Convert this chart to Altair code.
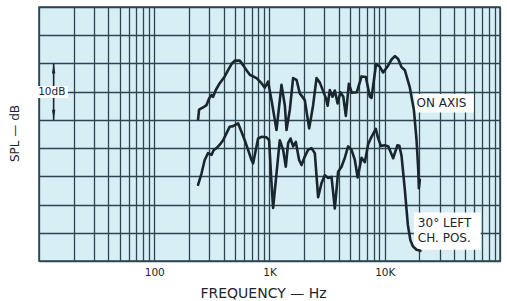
import altair as alt
import pandas as pd

# ---- data (frequency in Hz, level in dB on a 0-45 dB grid) ----
on_freq = [240, 245, 265, 284, 299, 314, 324, 342, 370, 409,
           437, 468, 500, 552, 590, 632, 675, 772, 852, 910,
           972, 1041, 1150, 1271, 1358, 1405, 1501, 1603, 1716, 1832,
           2025, 2208, 2391, 2559, 2733, 2920, 3082, 3194, 3337, 3523,
           3688, 3900, 4118, 4371, 4595, 4880, 5180, 5726, 6290, 6854,
           7426, 7682, 8406, 9069, 9685, 10534, 11457, 12238, 13072, 13937,
           14944, 16515, 17891, 18880, 19494, 19770, 20170]
on_db = [25.1, 26.8, 27.2, 27.6, 28.8, 29.4, 29.1, 30.3, 31.5, 32.7,
         33.8, 34.9, 35.5, 35.5, 34.7, 33.8, 33.0, 32.4, 31.5, 30.7,
         31.8, 28.5, 23.2, 31.2, 27.6, 23.2, 26.8, 32.4, 32.1, 29.7,
         28.5, 23.5, 27.6, 32.4, 31.6, 30.1, 28.9, 27.5, 30.3, 29.1,
         30.2, 27.9, 29.9, 29.1, 25.7, 31.4, 29.8, 29.9, 32.7, 32.6,
         29.1, 28.9, 34.9, 34.4, 33.4, 34.4, 35.7, 36.3, 35.8, 34.4,
         33.8, 30.7, 26.8, 21.4, 16.5, 12.9, 14.4]

off_freq = [240, 257, 274, 293, 314, 329, 347, 370, 396, 423,
            452, 483, 534, 571, 610, 652, 698, 721, 761, 796,
            852, 942, 992, 1041, 1075, 1150, 1228, 1313, 1385, 1450,
            1522, 1603, 1692, 1807, 1896, 2025, 2163, 2316, 2474, 2642,
            2828, 3020, 3227, 3453, 3688, 3940, 4217, 4504, 4812, 5150,
            5502, 5819, 6290, 6719, 7177, 7682, 8371, 8713, 9250, 10020,
            10747, 11828, 12866, 13389, 13992, 14944, 15864, 16680, 17535, 18880,
            20370]
off_db = [13.5, 15.5, 17.9, 19.1, 18.8, 19.7, 20.0, 20.6, 21.4, 22.6,
          23.8, 23.9, 24.4, 22.9, 21.4, 19.7, 17.9, 17.3, 19.7, 21.7,
          22.0, 21.9, 21.4, 13.8, 9.4, 15.5, 21.4, 19.7, 16.7, 20.9,
          21.7, 20.3, 21.1, 17.9, 17.0, 18.5, 19.7, 20.0, 19.1, 11.3,
          13.8, 15.2, 14.7, 14.9, 9.3, 15.8, 16.7, 18.3, 20.3, 19.7,
          17.9, 14.8, 18.3, 17.5, 20.7, 22.0, 23.4, 21.9, 20.4, 20.5,
          20.3, 18.2, 20.5, 20.4, 18.6, 12.6, 6.4, 3.7, 2.6, 2.0,
          1.8]

# annotation texts and their anchor values (Hz, dB)
label_text = ["ON AXIS", "30° LEFT", "CH. POS."]
label_freq = [18880, 19380, 19380]
label_db = [28.0, 6.7, 4.1]

box_freq = [17900, 18300, 9.2]
box_freq2 = [68000, 59000, 17.8]
box_db = [8.6, 29.6, 31.0]
box_db2 = [2.0, 26.3, 28.9]

scale_text = ["10dB"]
scale_freq = [12.9]
scale_db = [30.0]
arrow_freq = [13.4]
arrow_top = [35.0]
arrow_bottom = [25.0]
arrow_head_up = [34.1]
arrow_head_down = [25.9]

tick_labels = {100: "100", 1000: "1K", 10000: "10K"}

# ---- styling ----
GRID = "#2c4550"
INK = "#1a262d"
FONT = "DejaVu Sans"
PAPER = "#d7eef4"

x_ticks = [m * 10 ** d for d in range(1, 5) for m in range(1, 10)] + [100000]
y_ticks = list(range(0, 50, 5))
label_expr = " : ".join(
    f"datum.value == {k} ? '{v}'" for k, v in tick_labels.items()
) + " : ''"

X = alt.X(
    "freq:Q",
    scale=alt.Scale(type="log", domain=[10, 100000], nice=False),
    axis=alt.Axis(
        values=x_ticks, labelExpr=label_expr, ticks=False, domain=False,
        grid=True, gridColor=GRID, gridWidth=1.3, gridOpacity=1,
        labelFont=FONT, labelFontSize=10.5, labelColor=INK, labelPadding=6,
        labelOverlap=False, labelBound=False, labelFlush=False,
        title="FREQUENCY — Hz", titleFont=FONT, titleFontSize=14,
        titleFontWeight="normal", titleColor=INK, titleX=224, titleY=32,
        titleBaseline="middle", titleAlign="center",
    ),
)
Y = alt.Y(
    "db:Q",
    scale=alt.Scale(domain=[0, 45], nice=False, zero=False),
    axis=alt.Axis(
        values=y_ticks, labels=False, ticks=False, domain=False,
        grid=True, gridColor=GRID, gridWidth=1.3, gridOpacity=1,
        title="SPL — dB", titleFont=FONT, titleFontSize=12,
        titleFontWeight="normal", titleColor=INK, titleX=-25, titleY=126,
        titleAngle=-90, titleBaseline="middle", titleAlign="center",
    ),
)

curves = pd.concat([
    pd.DataFrame({"freq": on_freq, "db": on_db, "series": "on", "idx": range(len(on_freq))}),
    pd.DataFrame({"freq": off_freq, "db": off_db, "series": "off", "idx": range(len(off_freq))}),
])
labels = pd.DataFrame({"freq": label_freq, "db": label_db, "text": label_text})
boxes = pd.DataFrame({"freq": box_freq, "freq2": box_freq2, "db": box_db, "db2": box_db2})
scale_lbl = pd.DataFrame({"freq": scale_freq, "db": scale_db, "text": scale_text})
arrow = pd.DataFrame({"freq": arrow_freq, "db": arrow_top, "db2": arrow_bottom})
heads_up = pd.DataFrame({"freq": arrow_freq, "db": arrow_head_up})
heads_down = pd.DataFrame({"freq": arrow_freq, "db": arrow_head_down})

rule_layer = alt.Chart(arrow).mark_rule(color=INK, strokeWidth=1.6).encode(
    x=X, y=Y, y2=alt.Y2("db2"))
up_layer = alt.Chart(heads_up).mark_point(
    shape="M0,-1L0.34,1L-0.34,1Z", filled=True, size=100, color=INK, opacity=1, strokeWidth=0
).encode(x=X, y=Y)
down_layer = alt.Chart(heads_down).mark_point(
    shape="M0,1L0.34,-1L-0.34,-1Z", filled=True, size=100, color=INK, opacity=1, strokeWidth=0
).encode(x=X, y=Y)
box_layer = alt.Chart(boxes).mark_rect(color="white", opacity=1).encode(
    x=X, x2=alt.X2("freq2"), y=Y, y2=alt.Y2("db2"))
line_layer = alt.Chart(curves).mark_line(
    color=INK, strokeWidth=2.6, strokeJoin="round", strokeCap="round"
).encode(x=X, y=Y, detail="series:N", order="idx:Q")
text_layer = alt.Chart(labels).mark_text(
    align="left", baseline="middle", font=FONT, fontSize=12, color=INK
).encode(x=X, y=Y, text="text:N")
scale_text_layer = alt.Chart(scale_lbl).mark_text(
    align="center", baseline="middle", font=FONT, fontSize=10.5, color=INK
).encode(x=X, y=Y, text="text:N")

chart = alt.layer(
    rule_layer, up_layer, down_layer, box_layer, line_layer, text_layer, scale_text_layer
).properties(
    width=461, height=254,
    autosize=alt.AutoSizeParams(type="none"),
    padding={"left": 39, "top": 7, "right": 7, "bottom": 40},
    background="white",
).configure_view(
    fill=PAPER, stroke=GRID, strokeWidth=1.5
)

chart.save("out.html", embed_options={"renderer": "svg", "actions": False})
